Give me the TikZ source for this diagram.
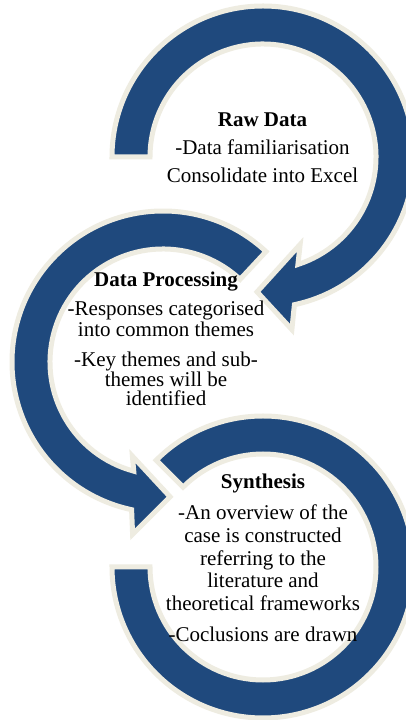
\documentclass[tikz,border=0pt]{standalone}
\usepackage{fontspec}
\setmainfont{Liberation Serif}
\definecolor{arcblue}{HTML}{1F497D}
\definecolor{arcrim}{HTML}{EEECE1}
\tikzset{
  band/.style={fill=arcblue, draw=arcrim, line width=5pt, line join=miter},
  txt/.style={font=\fontsize{21}{22}\selectfont, anchor=base, inner sep=0pt, text=black},
  ttl/.style={txt, font=\fontsize{21}{22}\selectfont\bfseries},
}
\begin{document}
\begin{tikzpicture}[x=1pt,y=1pt]
\useasboundingbox (0,0) rectangle (406,720);
\fill[white] (0,0) rectangle (406,720);

% first loop: Raw Data, clockwise from the left, arrow into the second loop
\begin{scope}[shift={(263,563)}]
  \draw[band] (180:151) arc[start angle=180, end angle=-78, radius=151]
    -- (-80.5:175) -- (-92.5:135) -- (-67:95) -- (-72:113)
    arc[start angle=-72, end angle=180, radius=113] -- cycle;
\end{scope}

% second loop: Data Processing, anticlockwise, arrow into the third loop
\begin{scope}[shift={(163,358)}]
  \draw[band] (47:151) arc[start angle=47, end angle=258, radius=151]
    -- (260:175) -- (273:135) -- (252:99) -- (255:113)
    arc[start angle=255, end angle=47, radius=113] -- cycle;
\end{scope}

% third loop: Synthesis, clockwise, open end on the left
\begin{scope}[shift={(263,153)}]
  \draw[band] (135:151) arc[start angle=135, end angle=-180, radius=151]
    -- (180:113) arc[start angle=-180, end angle=135, radius=113] -- cycle;
\end{scope}

% Raw Data
\node[ttl] (rawT) at (262.5,593) {Raw Data};
\node[txt] (raw1) at (262.5,565) {-Data familiarisation};
\node[txt] (raw2) at (262.5,537) {Consolidate into Excel};

% Data Processing
\node[ttl] (proT) at (166,433) {Data Processing};
\node[txt] (pro1) at (166,404) {-Responses categorised};
\node[txt] (pro2) at (166,383) {into common themes};
\node[txt] (pro3) at (166,353) {-Key themes and sub-};
\node[txt] (pro4) at (166,333) {themes will be};
\node[txt] (pro5) at (166,314) {identified};

% Synthesis
\node[ttl] (synT) at (263,231) {Synthesis};
\node[txt] (syn1) at (263,200) {-An overview of the};
\node[txt] (syn2) at (263,177) {case is constructed};
\node[txt] (syn3) at (263,154) {referring to the};
\node[txt] (syn4) at (263,132) {literature and};
\node[txt] (syn5) at (263,109) {theoretical frameworks};
\node[txt] (syn6) at (263,78) {-Coclusions are drawn};
\end{tikzpicture}
\end{document}
